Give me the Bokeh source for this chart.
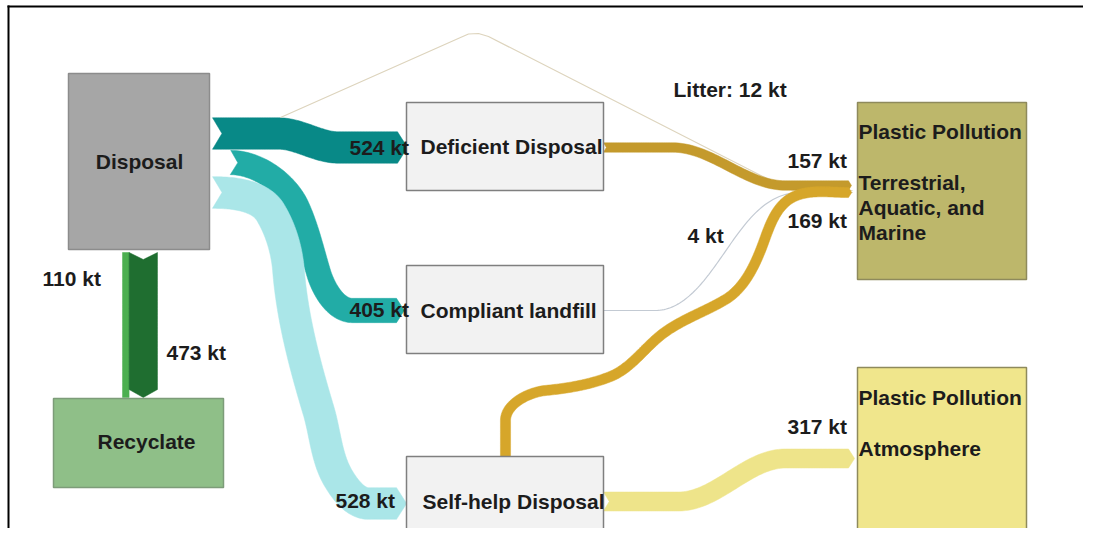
import numpy as np
from bokeh.plotting import figure
from bokeh.models import Range1d
from bokeh.core.properties import value
from bokeh.embed import file_html
from bokeh.resources import INLINE

# ---------------- data ----------------
node_names = ["Disposal", "Recyclate", "Deficient Disposal", "Compliant landfill",
              "Self-help Disposal", "Plastic Pollution T", "Plastic Pollution A"]
node_texts = ["Disposal", "Recyclate", "Deficient Disposal", "Compliant landfill",
              "Self-help Disposal",
              "Plastic Pollution\n\nTerrestrial,\nAquatic, and\nMarine",
              "Plastic Pollution\n\nAtmosphere"]
flow_source = ["Disposal", "Disposal", "Disposal", "Disposal", "Disposal", "Disposal",
               "Deficient Disposal", "Compliant landfill", "Self-help Disposal", "Self-help Disposal"]
flow_target = ["Deficient Disposal", "Compliant landfill", "Self-help Disposal", "Recyclate",
               "Recyclate", "Plastic Pollution T", "Plastic Pollution T", "Plastic Pollution T",
               "Plastic Pollution T", "Plastic Pollution A"]
flow_values = [524, 405, 528, 110, 473, 12, 157, 4, 169, 317]
flow_prefix = ["", "", "", "", "", "Litter: ", "", "", "", ""]
unit = "kt"

# ---------------- layout / style ----------------
W, H = 1083, 528
node_box = {  # x0, y0, x1, y1 (screen-like coords, y down)
    "Disposal": (68, 73, 209, 249),
    "Recyclate": (53, 398, 223, 487),
    "Deficient Disposal": (406, 102, 603, 190),
    "Compliant landfill": (406, 265, 603, 353),
    "Self-help Disposal": (406, 456, 603, 570),
    "Plastic Pollution T": (857, 102, 1026, 279),
    "Plastic Pollution A": (857, 367, 1026, 570),
}
node_fill = {"Disposal": "#a6a6a6", "Recyclate": "#8fbf88", "Deficient Disposal": "#f2f2f2",
             "Compliant landfill": "#f2f2f2", "Self-help Disposal": "#f2f2f2",
             "Plastic Pollution T": "#bdb76b", "Plastic Pollution A": "#f0e68c"}
node_line = {"Disposal": "#8c8c8c", "Recyclate": "#7d9c79", "Deficient Disposal": "#7f7f7f",
             "Compliant landfill": "#7f7f7f", "Self-help Disposal": "#7f7f7f",
             "Plastic Pollution T": "#8e8a5c", "Plastic Pollution A": "#8e8a5c"}
node_label_pos = {  # x, y of first line centre, align
    "Disposal": (139, 161, "center"),
    "Recyclate": (146, 441, "center"),
    "Deficient Disposal": (420, 146, "left"),
    "Compliant landfill": (420, 310, "left"),
    "Self-help Disposal": (422, 501, "left"),
    "Plastic Pollution T": (858, 131, "left"),
    "Plastic Pollution A": (858, 397, "left"),
}
LINE_STEP = 25.3

# routes: waypoints (x, y, tangent_x, tangent_y); 2-tuples -> straight polyline
flow_route = [
    [(212, 133, 1, 0), (278, 133, 1, 0), (338, 147, 1, 0), (397, 147, 1, 0)],
    [(230, 162, 1, 0), (297, 207, 0.45, 1), (318, 272, 0.3, 1), (352, 310, 1, 0), (396, 310, 1, 0)],
    [(212, 192, 1, 0), (270, 212, 0.6, 1), (288, 270, 0.08, 1), (318, 410, 0.3, 1),
     (338, 478, 0.6, 1), (368, 503, 1, 0), (396, 503, 1, 0)],
    None,  # recyclate, stacked below
    None,
    [(280, 117), (460, 37), (468, 33.5), (478, 33), (488, 36), (782, 186), (792, 189.5), (852, 190)],
    [(603, 147, 1, 0), (672, 147, 1, 0), (785, 185, 1, 0), (848, 185, 1, 0)],
    [(603, 310, 1, 0), (655, 310, 1, 0), (722, 255, 0.7, -1), (790, 193, 1, -0.15), (852, 192, 1, 0)],
    [(505, 456, 0, -1), (505, 420, 0, -1), (545, 390, 1, -0.1), (610, 376, 1, -0.4),
     (660, 335, 1, -0.8), (725, 299, 1, -0.6), (760, 250, 0.4, -1), (790, 198, 1, -0.6),
     (848, 192, 1, 0)],
    [(603, 501, 1, 0), (678, 501, 1, 0), (785, 458, 1, 0), (848, 458, 1, 0)],
]
flow_color = ["#088987", "#22aca6", "#aae6e8", "#4caf50", "#1f6e30",
              "#ddd4bd", "#c49a2c", "#c3cad3", "#d6a62a", "#eee48a"]
flow_label_pos = [(349, 147), (349, 309), (335, 500), (42, 278), (166, 352),
                  (673, 89), (787, 160), (687, 235), (787, 220), (787, 426)]
PX_PER_KT = 0.06
THIN = 20

FONT = value("Liberation Sans")


def hermite(wps, n=40):
    if len(wps[0]) == 2:
        return np.array(wps, dtype=float)
    pts = []
    for i in range(len(wps) - 1):
        x0, y0, tx0, ty0 = wps[i]
        x1, y1, tx1, ty1 = wps[i + 1]
        L = np.hypot(x1 - x0, y1 - y0)
        m0 = np.array([tx0, ty0]) / np.hypot(tx0, ty0) * L
        m1 = np.array([tx1, ty1]) / np.hypot(tx1, ty1) * L
        t = np.linspace(0, 1, n)
        if i > 0:
            t = t[1:]
        h00 = 2 * t**3 - 3 * t**2 + 1
        h10 = t**3 - 2 * t**2 + t
        h01 = -2 * t**3 + 3 * t**2
        h11 = t**3 - t**2
        px = h00 * x0 + h10 * m0[0] + h01 * x1 + h11 * m1[0]
        py = h00 * y0 + h10 * m0[1] + h01 * y1 + h11 * m1[1]
        pts.append(np.column_stack([px, py]))
    return np.vstack(pts)


def band(wps, w, head=None, notch=None):
    P = hermite(wps)
    d = np.gradient(P, axis=0)
    d = d / np.hypot(d[:, 0], d[:, 1])[:, None]
    nrm = np.column_stack([-d[:, 1], d[:, 0]])
    left = P + nrm * w / 2
    right = P - nrm * w / 2
    head = w * 0.32 if head is None else head
    notch = w * 0.3 if notch is None else notch
    tip = P[-1] + d[-1] * head
    nt = P[0] + d[0] * notch
    poly = np.vstack([left, tip[None, :], right[::-1], nt[None, :]])
    return poly[:, 0], poly[:, 1]


p = figure(width=W, height=H, x_range=Range1d(0, W), y_range=Range1d(H, 0),
           output_backend="svg", toolbar_location=None, x_axis_location=None,
           y_axis_location=None, min_border=0, outline_line_color=None,
           background_fill_color="white")
p.grid.visible = False

# recyclate stacked routes (vertical)
dx0, dy0, dx1, dy1 = node_box["Disposal"]
rx0, ry0, rx1, ry1 = node_box["Recyclate"]
xcur = 122.0
for i in range(len(flow_values)):
    if flow_target[i] == "Recyclate":
        w = flow_values[i] * PX_PER_KT
        cx = xcur + w / 2
        xcur += w
        head = 0 if w < 10 else 8
        flow_route[i] = [(cx, dy1 + 3, 0, 1), (cx, ry0 - 1 - head, 0, 1)]

# flows
for i, v in enumerate(flow_values):
    route = flow_route[i]
    if v < THIN:
        P = hermite(route)
        p.line(P[:, 0], P[:, 1], line_color=flow_color[i], line_width=1.2)
    else:
        w = v * PX_PER_KT
        kw = {}
        if flow_target[i] == "Recyclate":
            kw = dict(head=0 if w < 10 else 8, notch=0 if w < 10 else 7)
        if flow_source[i] == "Self-help Disposal" and flow_target[i] == "Plastic Pollution T":
            kw = dict(notch=0)
        xs, ys = band(route, w, **kw)
        p.patch(xs, ys, fill_color=flow_color[i], line_color=flow_color[i], line_width=0.5)

# nodes
for name in node_names:
    x0, y0, x1, y1 = node_box[name]
    p.quad(left=x0, right=x1, top=y0, bottom=y1, fill_color=node_fill[name],
           line_color=node_line[name], line_width=1.5)

for name, txt in zip(node_names, node_texts):
    x, y, al = node_label_pos[name]
    lines = txt.split("\n")
    xs = [x] * len(lines)
    ys = [y + k * LINE_STEP for k in range(len(lines))]
    p.text(x=xs, y=ys, text=lines, text_font=FONT, text_font_style="bold",
           text_font_size="21px", text_align=al, text_baseline="middle",
           text_color="#1c1c1c")

# flow labels
for i, v in enumerate(flow_values):
    x, y = flow_label_pos[i]
    p.text(x=[x], y=[y], text=[f"{flow_prefix[i]}{v} {unit}"], text_font=FONT,
           text_font_style="bold", text_font_size="21px", text_align="left",
           text_baseline="middle", text_color="#1c1c1c")

# frame lines
p.line([8, 8], [5, H], line_color="black", line_width=2)
p.line([7, W], [6, 6], line_color="black", line_width=2)

open("out.html", "w").write(file_html(p, INLINE))
